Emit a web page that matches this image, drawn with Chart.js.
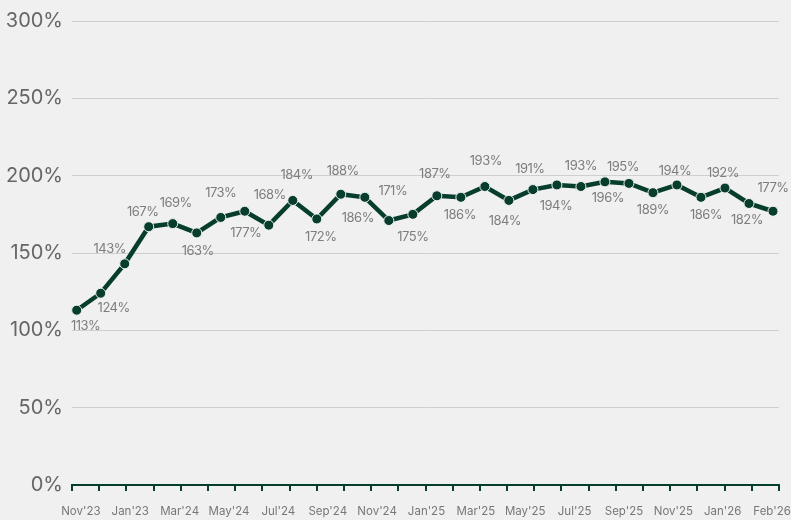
<!DOCTYPE html>
<html>
<head>
<meta charset="utf-8">
<script src="https://cdn.jsdelivr.net/npm/chart.js@4.4.1/dist/chart.umd.min.js"></script>
<style>
  html, body { margin: 0; padding: 0; background: #f0f0f0; }
</style>
</head>
<body>
<canvas id="myChart" width="791" height="520"></canvas>
<script>
// values (one point per month)
const values = [113, 124, 143, 167, 169, 163, 173, 177, 168, 184,
  172, 188, 186, 171, 175, 187, 186, 193, 184, 191,
  194, 193, 196, 195, 189, 194, 186, 192, 182, 177];

// axis labels as printed under the chart
const axisLabels = ["Nov'23", "Jan'23", "Mar'24", "May'24", "Jul'24", "Sep'24", "Nov'24",
  "Jan'25", "Mar'25", "May'25", "Jul'25", "Sep'25", "Nov'25", "Jan'26", "Feb'26"];

const yTicks = [0, 50, 100, 150, 200, 250, 300];

// where each value label sits relative to its point [dx, dy]
const labelOffsets = [[9, 16], [13, 15], [-15, -15], [-6, -15], [3, -21], [1, 18], [0, -24], [1, 22], [1, -30], [4, -25],
  [4, 18], [2, -23], [-7, 21], [4, -29], [0, 23], [-2, -22], [-1, 18], [1, -25], [-4, 21], [-3, -20],
  [-1, 21], [0, -20], [3, 16], [-6, -16], [0, 17], [-2, -14], [5, 18], [-2, -15], [-2, 17], [0, -23]];

const green = '#063d2c';
const font = 'Inter';

const valueLabels = {
  id: 'valueLabels',
  afterDatasetsDraw(chart) {
    const ctx = chart.ctx;
    const meta = chart.getDatasetMeta(0);
    ctx.save();
    ctx.font = '13px ' + font;
    ctx.letterSpacing = '-0.5px';
    ctx.fillStyle = '#7d7d7d';
    ctx.textAlign = 'center';
    ctx.textBaseline = 'middle';
    meta.data.forEach((pt, i) => {
      const off = labelOffsets[i];
      ctx.fillText(values[i] + '%', pt.x + off[0], pt.y + off[1]);
    });
    ctx.restore();
  }
};

const data = {
  datasets: [{
    data: values.map((v, i) => ({ x: i, y: v })),
    borderColor: green,
    borderWidth: 4.5,
    pointRadius: 5,
    pointBackgroundColor: green,
    pointBorderColor: '#f0f0f0',
    pointBorderWidth: 1,
    tension: 0,
    clip: false
  }]
};

const config = {
  type: 'line',
  data: data,
  plugins: [valueLabels],
  options: {
    responsive: false,
    animation: false,
    layout: { padding: { top: 12, right: 12, left: 0, bottom: 0 } },
    plugins: { legend: { display: false }, tooltip: { enabled: false } },
    scales: {
      x: { type: 'linear', min: -0.195, max: 29.25, display: false },
      xt: {
        type: 'linear', position: 'bottom', min: 0, max: 26, weight: 0,
        afterBuildTicks: (a) => { a.ticks = Array.from({ length: 27 }, (_, i) => ({ value: i })); },
        afterFit: (s) => { s.height = 7; s.paddingLeft = 0; s.paddingRight = 0; },
        ticks: { display: false },
        grid: { drawOnChartArea: false, tickLength: 6, color: green, lineWidth: 2 },
        border: { color: green, width: 2 }
      },
      xl: {
        type: 'linear', position: 'bottom', min: -0.18, max: 14.14, weight: 1,
        afterBuildTicks: (a) => { a.ticks = axisLabels.map((_, i) => ({ value: i })); },
        afterFit: (s) => { s.height = 28; s.paddingLeft = 0; s.paddingRight = 0; },
        ticks: {
          callback: (v) => axisLabels[v],
          autoSkip: false, maxRotation: 0, color: '#777',
          font: { family: font, size: 11.5 }, padding: 5
        },
        grid: { display: false },
        border: { display: false }
      },
      y: {
        min: 0, max: 300,
        afterBuildTicks: (a) => { a.ticks = yTicks.map((v) => ({ value: v })); },
        afterFit: (s) => { s.width = 72; },
        ticks: {
          callback: (v) => v + '%',
          color: '#666', font: { family: font, size: 20 }, padding: 9
        },
        grid: { color: '#cfcfcf', drawTicks: false },
        border: { display: false }
      }
    }
  }
};

const myChart = new Chart(document.getElementById('myChart'), config);
</script>
</body>
</html>
